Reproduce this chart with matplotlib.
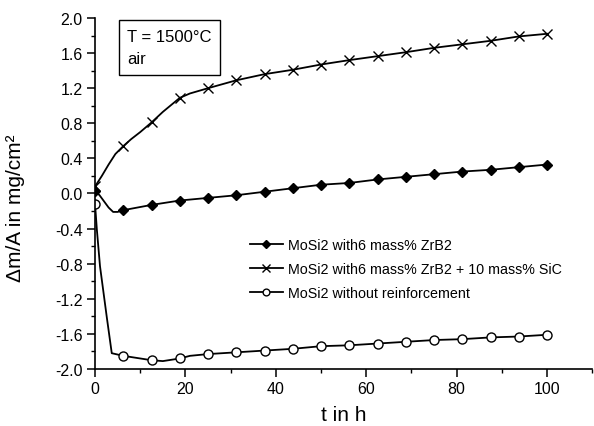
import matplotlib
matplotlib.use("Agg")
import matplotlib.pyplot as plt
from matplotlib.ticker import MultipleLocator

plt.rcParams['font.family'] = ['Liberation Sans', 'DejaVu Sans']

# marker times (h)
t_marks = [0, 6.25, 12.5, 18.75, 25, 31.25, 37.5, 43.75, 50, 56.25, 62.5,
           68.75, 75, 81.25, 87.5, 93.75, 100]

# MoSi2 with 6 mass% ZrB2
t_zrb2 = [0, 1, 2, 3, 4, 5, 6.25, 12.5, 18.75, 25, 31.25, 37.5, 43.75, 50,
          56.25, 62.5, 68.75, 75, 81.25, 87.5, 93.75, 100]
v_zrb2 = [0.03, -0.02, -0.09, -0.16, -0.21, -0.21, -0.19, -0.13, -0.08, -0.05,
          -0.02, 0.02, 0.06, 0.10, 0.12, 0.16, 0.19, 0.22, 0.25, 0.27, 0.30, 0.33]

# MoSi2 with 6 mass% ZrB2 + 10 mass% SiC
t_sic = [0, 1.5, 3, 4.5, 6.25, 8, 10, 12.5, 15, 18.75, 21, 25, 31.25, 37.5,
         43.75, 50, 56.25, 62.5, 68.75, 75, 81.25, 87.5, 93.75, 100]
v_sic = [0.08, 0.20, 0.33, 0.45, 0.54, 0.62, 0.70, 0.81, 0.93, 1.09, 1.14,
         1.20, 1.29, 1.36, 1.41, 1.47, 1.52, 1.565, 1.61, 1.66, 1.70, 1.74,
         1.79, 1.82]

# MoSi2 without reinforcement
t_pure = [0, 0.4, 1.1, 2.6, 3.7, 6.25, 12.5, 15, 18.75, 21, 25, 31.25, 37.5,
          43.75, 50, 56.25, 62.5, 68.75, 75, 81.25, 87.5, 93.75, 100]
v_pure = [-0.12, -0.41, -0.83, -1.41, -1.82, -1.85, -1.90, -1.91, -1.88,
          -1.85, -1.83, -1.81, -1.79, -1.77, -1.74, -1.73, -1.71, -1.69,
          -1.67, -1.66, -1.64, -1.63, -1.61]

labels = ["MoSi2 with6 mass% ZrB2",
          "MoSi2 with6 mass% ZrB2 + 10 mass% SiC",
          "MoSi2 without reinforcement"]


def mark_idx(ts):
    return [i for i, t in enumerate(ts) if t in t_marks]


fig = plt.figure(figsize=(5.94, 4.27), dpi=100)
ax = fig.add_axes([0.16, 0.1335, 0.837, 0.822])

lw = 1.3
ax.plot(t_zrb2, v_zrb2, color='black', lw=lw, marker='D', ms=5.5,
        mfc='black', mec='black', markevery=mark_idx(t_zrb2), label=labels[0])
ax.plot(t_sic, v_sic, color='black', lw=lw, marker='x', ms=7, mew=1.0,
        markevery=mark_idx(t_sic), label=labels[1])
ax.plot(t_pure, v_pure, color='black', lw=lw, marker='o', ms=6.5,
        mfc='white', mec='black', mew=1.0, markevery=mark_idx(t_pure),
        label=labels[2])

ax.set_xlim(0, 110)
ax.set_ylim(-2.0, 2.0)
ax.xaxis.set_major_locator(MultipleLocator(20))
ax.xaxis.set_minor_locator(MultipleLocator(10))
ax.yaxis.set_major_locator(MultipleLocator(0.4))
ax.yaxis.set_minor_locator(MultipleLocator(0.2))
ax.set_xticks([0, 20, 40, 60, 80, 100])
ax.yaxis.set_major_formatter(plt.FuncFormatter(lambda v, p: f"{v:.1f}"))

for s in ['top', 'right']:
    ax.spines[s].set_visible(False)
for s in ['left', 'bottom']:
    ax.spines[s].set_linewidth(1.2)
ax.tick_params(which='major', direction='out', length=6, width=1.1,
               labelsize=11.5, pad=3)
ax.tick_params(which='minor', direction='out', length=3, width=1.0)

ax.set_xlabel("t in h", fontsize=15, labelpad=6)
ax.set_ylabel("Δm/A in mg/cm²", fontsize=15)
ax.yaxis.set_label_coords(-0.14, 0.46)

ax.text(0.064, 0.97, "T = 1500°C\nair", transform=ax.transAxes,
        fontsize=12, va='top', ha='left', linespacing=1.65,
        bbox=dict(boxstyle='square,pad=0.5', fc='white', ec='black', lw=1.0))

leg = ax.legend(loc='upper left', bbox_to_anchor=(0.311, 0.372), frameon=False,
                fontsize=10.3, handlelength=2.3, handletextpad=0.35,
                labelspacing=0.68, borderpad=0.0, borderaxespad=0.0,
                markerscale=0.75)

fig.savefig("out.png", dpi=100)
